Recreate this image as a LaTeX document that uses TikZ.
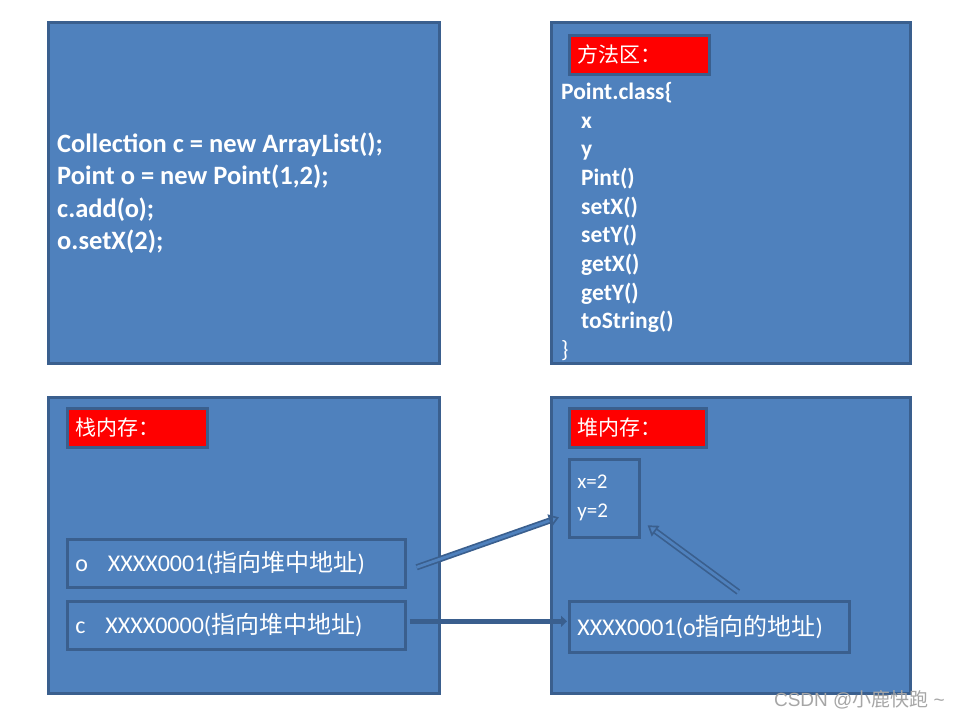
\documentclass[tikz,border=0pt]{standalone}
\usepackage{fontspec}
\setmainfont{Carlito}
\newfontfamily\cjk{Noto Sans CJK SC}
\newfontfamily\wmfont{Liberation Sans}
\usetikzlibrary{arrows.meta,calc}
\definecolor{boxfill}{HTML}{4F81BD}
\definecolor{boxline}{HTML}{3A5F8E}
\definecolor{wmgray}{HTML}{A6A6A6}
\begin{document}
\begin{tikzpicture}[x=1pt,y=-1pt,
  panel/.style={draw=boxline, line width=2.6pt, fill=boxfill, anchor=north west, inner sep=0pt},
  redlabel/.style={draw=boxline, line width=2.6pt, fill=red, anchor=north west, inner xsep=8pt, inner ysep=0pt,
     minimum height=39pt, text width=124pt, align=left, text=white, font=\cjk\fontsize{21}{24}\selectfont},
  inbox/.style={draw=boxline, line width=2.6pt, fill=boxfill, anchor=north west, inner xsep=8pt, inner ysep=0pt,
     align=left, text=white, font=\fontsize{24}{28}\selectfont},
  dblarrow/.style={draw=boxline, line width=1.7pt, double=boxfill, double distance=2.8pt,
     -{Triangle[open, length=10pt, width=13pt]}},
  solidarrow/.style={draw=boxline, line width=4.5pt, -{Triangle[length=6pt, width=11pt]}}
]
\useasboundingbox (0,0) rectangle (960,720);
\fill[white] (0,0) rectangle (960,720);

% panels
\node[panel, minimum width=391pt, minimum height=341pt] (code) at (47,21) {};
\node[panel, minimum width=359pt, minimum height=341pt] (method) at (550,21) {};
\node[panel, minimum width=391pt, minimum height=296pt] (stack) at (47,396) {};
\node[panel, minimum width=359pt, minimum height=296pt] (heap) at (550,396) {};

% code text
\node[anchor=west, align=left, text=white, inner sep=0pt,
      font=\bfseries\fontsize{26.5}{32.4}\selectfont] (codetext) at (57,193)
 {Collection c = new ArrayList();\\
  Point o = new Point(1,2);\\
  c.add(o);\\
  o.setX(2);};

% method area
\node[redlabel] (mlabel) at (568,34) {方法区：};
\node[anchor=north west, align=left, text=white, inner sep=0pt,
      font=\bfseries\fontsize{23.5}{28.7}\selectfont] (classtext) at (561,82)
 {Point.class\{\\
  \hspace*{20pt}x\\
  \hspace*{20pt}y\\
  \hspace*{20pt}Pint()\\
  \hspace*{20pt}setX()\\
  \hspace*{20pt}setY()\\
  \hspace*{20pt}getX()\\
  \hspace*{20pt}getY()\\
  \hspace*{20pt}toString()\\
  \mdseries\}};

% stack
\node[redlabel, text width=124pt] (slabel) at (66,407) {栈内存：};
\node[inbox, minimum width=338pt, minimum height=48pt, text width=322pt] (obox) at (66,538)
 {o\hspace{20pt}XXXX0001({\cjk 指向堆中地址})};
\node[inbox, minimum width=338pt, minimum height=48pt, text width=322pt] (cbox) at (66,600)
 {c\hspace{20pt}XXXX0000({\cjk 指向堆中地址})};

% heap
\node[redlabel, text width=121pt] (hlabel) at (568,407) {堆内存：};
\node[inbox, minimum width=70pt, minimum height=78pt, text width=54pt, inner xsep=8pt,
      font=\fontsize{21}{29}\selectfont] (xy) at (568,458)
 {x=2\\y=2};
\node[inbox, minimum width=280pt, minimum height=51pt, text width=264pt] (addr) at (568,600)
 {XXXX0001(o{\cjk 指向的地址})};

% connectors
\coordinate (a1s) at ($(obox.east)+(10,4)$);
\coordinate (a1e) at ($(xy.west)+(-9,19)$);
\coordinate (a2s) at ($(cbox.east)+(3,-4)$);
\coordinate (a2e) at ($(addr.west)+(-1,-5.5)$);
\coordinate (a3s) at ($(addr.north)+(29,-8)$);
\coordinate (a3e) at ($(xy.east)+(7,27)$);
\draw[dblarrow] (a1s) -- (a1e);
\draw[solidarrow] (a2s) -- (a2e);
\draw[dblarrow] (a3s) -- (a3e);

% watermark
\node[anchor=east, text=wmgray, inner sep=0pt, font=\wmfont\fontsize{19}{21}\selectfont] (wm) at (945,700)
 {CSDN @{\cjk 小鹿快跑} \textasciitilde};
\end{tikzpicture}
\end{document}
